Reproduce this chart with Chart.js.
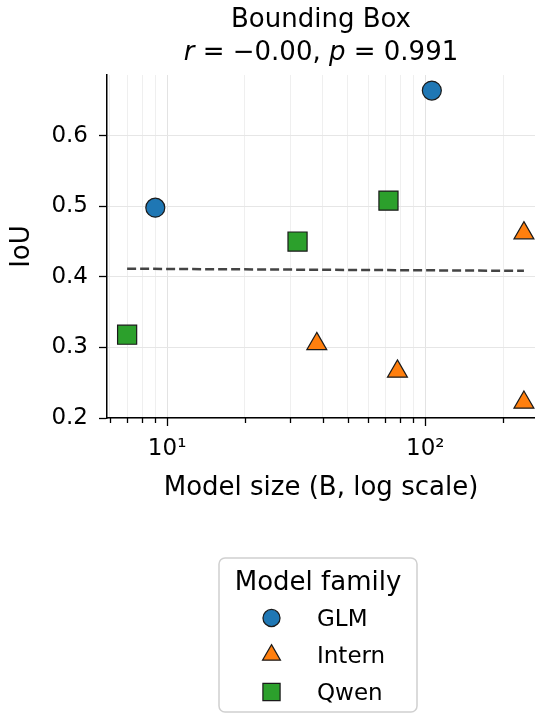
<!DOCTYPE html>
<html>
<head>
<meta charset="utf-8">
<script src="https://cdn.jsdelivr.net/npm/chart.js@4.4.1/dist/chart.umd.min.js"></script>
<style>
  html, body { margin: 0; padding: 0; background: #fff; }
</style>
</head>
<body>
<canvas id="myChart" width="535" height="713"></canvas>
<script>
// Datos (tamaño del modelo en B, IoU)
const glmSize = [9, 106];
const glmIoU = [0.498, 0.664];
const internSize = [38, 78, 241, 241];
const internIoU = [0.305, 0.266, 0.462, 0.222];
const qwenSize = [7, 32, 72];
const qwenIoU = [0.318, 0.450, 0.508];

// Recta de ajuste (extremos)
const fitSize = [7, 241];
const fitIoU = [0.4115, 0.4085];

// Ticks
const xTicks = [6, 7, 8, 9, 10, 20, 30, 40, 50, 60, 70, 80, 90, 100, 200];
const xTickLabels = { 10: '10¹', 100: '10²' };
const yTicks = [0.2, 0.3, 0.4, 0.5, 0.6];

const chartTitle = 'Bounding Box';
const statR = '−0.00';
const statP = '0.991';
const legendTitle = 'Model family';

const FONT = '"DejaVu Sans"';
Chart.defaults.font.family = FONT;
Chart.defaults.color = '#000';

function toPoints(xs, ys) {
  return xs.map((x, i) => ({ x: x, y: ys[i] }));
}

// Título en dos líneas (la segunda con r y p en cursiva)
const titlePlugin = {
  id: 'titulo',
  afterDraw(chart) {
    const { ctx, chartArea } = chart;
    const cx = (chartArea.left + chartArea.right) / 2;
    ctx.save();
    ctx.fillStyle = '#000';
    ctx.textBaseline = 'alphabetic';
    ctx.textAlign = 'center';
    ctx.font = '26px ' + FONT;
    ctx.fillText(chartTitle, cx, 27);

    const parts = [
      ['r', true], [' = ' + statR + ', ', false], ['p', true], [' = ' + statP, false]
    ];
    let total = 0;
    parts.forEach(p => {
      ctx.font = (p[1] ? 'oblique ' : '') + '26px ' + FONT;
      total += ctx.measureText(p[0]).width;
    });
    let x = cx - total / 2;
    ctx.textAlign = 'left';
    parts.forEach(p => {
      ctx.font = (p[1] ? 'oblique ' : '') + '26px ' + FONT;
      ctx.fillText(p[0], x, 60);
      x += ctx.measureText(p[0]).width;
    });
    ctx.restore();
  }
};

// Marcas del eje x: mayores largas, menores cortas
const xTickMarks = {
  id: 'xTickMarks',
  afterDraw(chart) {
    const { ctx, chartArea } = chart;
    const xs = chart.scales.x;
    ctx.save();
    ctx.strokeStyle = '#000';
    ctx.lineWidth = 1.3;
    xs.ticks.forEach(t => {
      const px = Math.round(xs.getPixelForValue(t.value)) + 0.5;
      const len = t.major ? 8 : 5;
      ctx.beginPath();
      ctx.moveTo(px, chartArea.bottom);
      ctx.lineTo(px, chartArea.bottom + len);
      ctx.stroke();
    });
    ctx.restore();
  }
};

// Leyenda con recuadro debajo del gráfico
const boxLegend = {
  id: 'boxLegend',
  afterDraw(chart) {
    const { ctx, chartArea } = chart;
    const cx = (chartArea.left + chartArea.right) / 2 - 3;
    const top = 558, w = 198, h = 154;
    ctx.save();
    ctx.beginPath();
    ctx.roundRect(cx - w / 2, top, w, h, 6);
    ctx.fillStyle = 'rgba(255,255,255,0.8)';
    ctx.fill();
    ctx.strokeStyle = '#d0d0d0';
    ctx.lineWidth = 1.5;
    ctx.stroke();

    ctx.fillStyle = '#000';
    ctx.textAlign = 'center';
    ctx.textBaseline = 'alphabetic';
    ctx.font = '26px ' + FONT;
    ctx.fillText(legendTitle, cx, 590);

    const items = chart.data.datasets.filter(d => d.inLegend);
    items.forEach((d, i) => {
      const y = 618 + i * 37;
      ctx.fillStyle = d.backgroundColor;
      ctx.strokeStyle = d.borderColor;
      ctx.lineWidth = d.borderWidth;
      Chart.helpers.drawPoint(ctx, {
        pointStyle: d.pointStyle,
        radius: d.pointRadius * 0.9,
        borderWidth: d.borderWidth,
        rotation: 0
      }, cx - 46.5, y);
      ctx.fillStyle = '#000';
      ctx.textAlign = 'left';
      ctx.font = '23px ' + FONT;
      ctx.fillText(d.label, cx - 1, y + 8);
    });
    ctx.restore();
  }
};

const ctx = document.getElementById('myChart').getContext('2d');
const chart = new Chart(ctx, {
  type: 'scatter',
  data: {
    datasets: [
      {
        label: 'fit',
        data: toPoints(fitSize, fitIoU),
        showLine: true,
        borderColor: '#444444',
        borderWidth: 2.5,
        borderDash: [9, 4],
        pointRadius: 0,
        fill: false,
        order: 5
      },
      {
        label: 'GLM',
        inLegend: true,
        data: toPoints(glmSize, glmIoU),
        pointStyle: 'circle',
        pointRadius: 9.5,
        backgroundColor: '#1f77b4',
        borderColor: '#1a1a1a',
        borderWidth: 1.2,
        clip: false
      },
      {
        label: 'Intern',
        inLegend: true,
        data: toPoints(internSize, internIoU),
        pointStyle: 'triangle',
        pointRadius: 11.5,
        backgroundColor: '#ff7f0e',
        borderColor: '#1a1a1a',
        borderWidth: 1.2,
        clip: false
      },
      {
        label: 'Qwen',
        inLegend: true,
        data: toPoints(qwenSize, qwenIoU),
        pointStyle: 'rect',
        pointRadius: 13.5,
        backgroundColor: '#2ca02c',
        borderColor: '#1a1a1a',
        borderWidth: 1.2,
        clip: false
      }
    ]
  },
  options: {
    responsive: false,
    animation: false,
    events: [],
    layout: { autoPadding: false, padding: { top: 75, right: 0, bottom: 195, left: 0 } },
    plugins: {
      legend: { display: false },
      tooltip: { enabled: false },
      title: { display: false }
    },
    scales: {
      x: {
        type: 'logarithmic',
        min: 5.85,
        max: 266,
        afterBuildTicks: (scale) => {
          scale.ticks = xTicks.map(v => ({ value: v, major: v in xTickLabels }));
        },
        afterFit: (scale) => { scale.height = 100; },
        ticks: {
          autoSkip: false,
          maxRotation: 0,
          padding: 9,
          font: { size: 23 },
          callback: (v) => xTickLabels[v] || ''
        },
        grid: {
          color: (c) => (c.tick && c.tick.major) ? '#e3e3e3' : '#efefef',
          lineWidth: 1,
          tickLength: 8,
          tickColor: 'rgba(0,0,0,0)'
        },
        border: { display: true, color: '#000', width: 1.5 },
        title: {
          display: true,
          text: 'Model size (B, log scale)',
          font: { size: 26 },
          padding: { top: 0, bottom: 14 }
        }
      },
      y: {
        min: 0.2,
        max: 0.686,
        afterBuildTicks: (scale) => {
          scale.ticks = yTicks.map(v => ({ value: v }));
        },
        afterFit: (scale) => { scale.width = 107; },
        ticks: {
          padding: 11,
          font: { size: 23 },
          callback: (v) => v.toFixed(1)
        },
        grid: {
          color: '#e6e6e6',
          lineWidth: 1,
          tickLength: 8,
          tickColor: '#000',
          tickWidth: 1.3
        },
        border: { display: true, color: '#000', width: 1.5 },
        title: {
          display: true,
          text: 'IoU',
          font: { size: 26 },
          padding: { top: 7, bottom: 0 }
        }
      }
    }
  },
  plugins: [titlePlugin, xTickMarks, boxLegend]
});
</script>
</body>
</html>
